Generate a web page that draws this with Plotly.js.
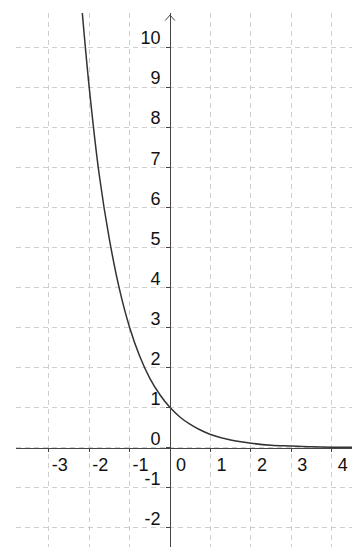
<!DOCTYPE html>
<html>
<head>
<meta charset="utf-8">
<script src="https://cdn.plot.ly/plotly-3.0.1.min.js"></script>
<style>html,body{margin:0;padding:0;background:#fff;}#chart{width:352px;height:547px;}</style>
</head>
<body>
<div id="chart"></div>
<script>
// Curve points (y = (1/3)^x shape)
const curveX = [-2.2, -2, -1.75, -1.5, -1.25, -1, -0.75, -0.5, -0.25, 0, 0.25, 0.5, 0.75, 1, 1.5, 2, 2.5, 3, 3.5, 4, 4.5];
const curveY = [11.2, 9.0, 6.8, 5.2, 3.95, 3.0, 2.28, 1.73, 1.32, 1.0, 0.76, 0.58, 0.44, 0.33, 0.19, 0.11, 0.06, 0.04, 0.02, 0.01, 0.007];
// Tick labels
const xTicks = [-3, -2, -1, 0, 1, 2, 3, 4];
const yTicks = [-2, -1, 0, 1, 2, 3, 4, 5, 6, 7, 8, 9, 10];
const xRange = [-3.81, 4.50];
const yRange = [-2.48, 10.85];

const fontSpec = {family: 'Liberation Sans, Arial, sans-serif', size: 18, color: '#111'};

const curve = {
  x: curveX, y: curveY, type: 'scatter', mode: 'lines',
  line: {color: '#333', width: 1.5, shape: 'spline', smoothing: 1},
  hoverinfo: 'skip', showlegend: false
};
// y-axis arrow head
const tipY = yRange[1] - 0.05;
const arrow = {
  x: [-0.12, 0, 0.12], y: [tipY - 0.14, tipY, tipY - 0.14], type: 'scatter', mode: 'lines',
  line: {color: '#444', width: 1}, hoverinfo: 'skip', showlegend: false, cliponaxis: false
};

const xPos = (0 - yRange[0]) / (yRange[1] - yRange[0]);
const yPos = (0 - xRange[0]) / (xRange[1] - xRange[0]);

const layout = {
  width: 352, height: 547,
  margin: {l: 16, r: 0, t: 13, b: 0, pad: 0},
  paper_bgcolor: '#fff', plot_bgcolor: '#fff',
  showlegend: false,
  xaxis: {
    range: xRange, anchor: 'free', position: xPos,
    tickmode: 'array', tickvals: xTicks, ticktext: xTicks.map(String),
    showline: true, linecolor: '#444', linewidth: 1,
    ticks: 'outside', ticklen: 3, tickcolor: '#444', tickwidth: 1,
    showgrid: true, gridcolor: '#cfcfcf', gridwidth: 1, griddash: '5px,4px',
    zeroline: false, tickfont: fontSpec, ticklabelshift: 11, ticklabelstandoff: -2,
    fixedrange: true
  },
  yaxis: {
    range: yRange, anchor: 'free', position: yPos,
    tickmode: 'array', tickvals: yTicks, ticktext: yTicks.map(String),
    showline: true, linecolor: '#444', linewidth: 1,
    ticks: 'outside', ticklen: 4, tickcolor: '#444', tickwidth: 1,
    showgrid: true, gridcolor: '#cfcfcf', gridwidth: 1, griddash: '5px,4px',
    zeroline: false, tickfont: fontSpec, ticklabelshift: -9, ticklabelstandoff: 2,
    fixedrange: true
  }
};

Plotly.newPlot('chart', [curve, arrow], layout, {staticPlot: true, displayModeBar: false});
</script>
</body>
</html>
